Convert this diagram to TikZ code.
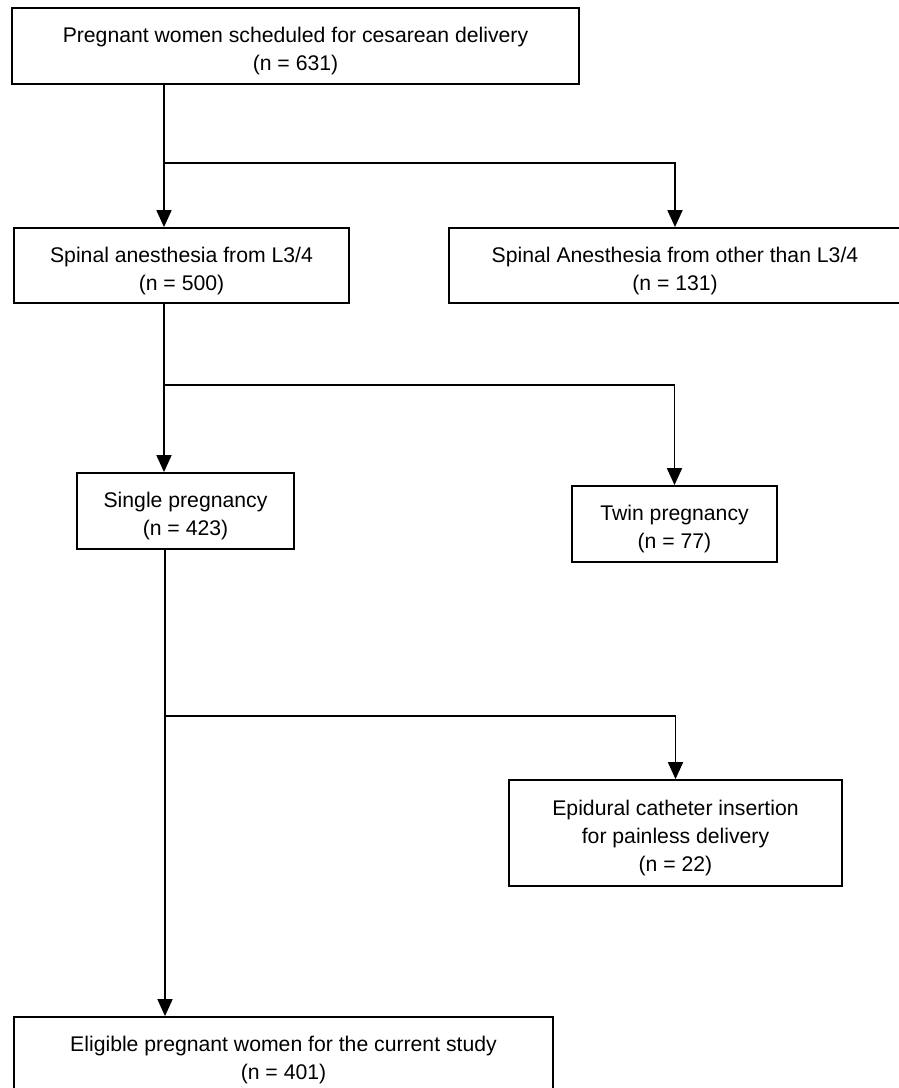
\documentclass[tikz,border=0pt]{standalone}
\usepackage{fontspec}
\setmainfont{Liberation Sans}
\usetikzlibrary{arrows.meta, calc, positioning}
\newcommand{\topgap}{\rule{0pt}{12.8pt}}

\begin{document}
\begin{tikzpicture}[x=0.5pt, y=-0.5pt,
        box/.style={draw, line width=0.9pt, align=center, inner sep=0pt,
            font=\fontsize{10.6}{14}\selectfont},
        arr/.style={line width=0.9pt, -{Triangle[length=8.5pt, width=7.5pt]}}]
    \useasboundingbox (0, 0) rectangle (899, 1088);
    \node[box, minimum width=283.5pt, minimum height=38pt] (all) at (295.5, 46)
        {\topgap Pregnant women scheduled for cesarean delivery\\(n = 631)};
    \node[box, minimum width=167.5pt, minimum height=37.5pt] (spinal) at (181.5, 265.5)
        {\topgap Spinal anesthesia from L3/4\\(n = 500)};
    \node[box, minimum width=226pt, minimum height=37.5pt] (other) at (675, 265.5)
        {\topgap Spinal Anesthesia from other than L3/4\\(n = 131)};
    \node[box, minimum width=108.5pt, minimum height=38pt] (single) at (185.5, 511)
        {\topgap Single pregnancy\\(n = 423)};
    \node[box, minimum width=102.5pt, minimum height=38pt] (twin) at (674.5, 524)
        {\topgap Twin pregnancy\\(n = 77)};
    \node[box, minimum width=166.5pt, minimum height=53pt] (epidural) at (675.5, 833)
        {\topgap Epidural catheter insertion\\for painless delivery\\(n = 22)};
    \node[box, minimum width=269.5pt, minimum height=38pt] (eligible) at (283.5, 1055)
        {\topgap Eligible pregnant women for the current study\\(n = 401)};
    \coordinate (split1) at (164, 163);
    \coordinate (split2) at (164, 385);
    \coordinate (split3) at (165, 716);
    \draw[arr] (all.south -| split1) -- (spinal.north -| split1);
    \draw[arr] (split1) -| (other.north);
    \draw[arr] (spinal.south -| split2) -- (single.north -| split2);
    \draw[arr] (split2) -| (twin.north);
    \draw[arr] (single.south -| split3) -- (eligible.north -| split3);
    \draw[arr] (split3) -| (epidural.north);
\end{tikzpicture}
\end{document}
